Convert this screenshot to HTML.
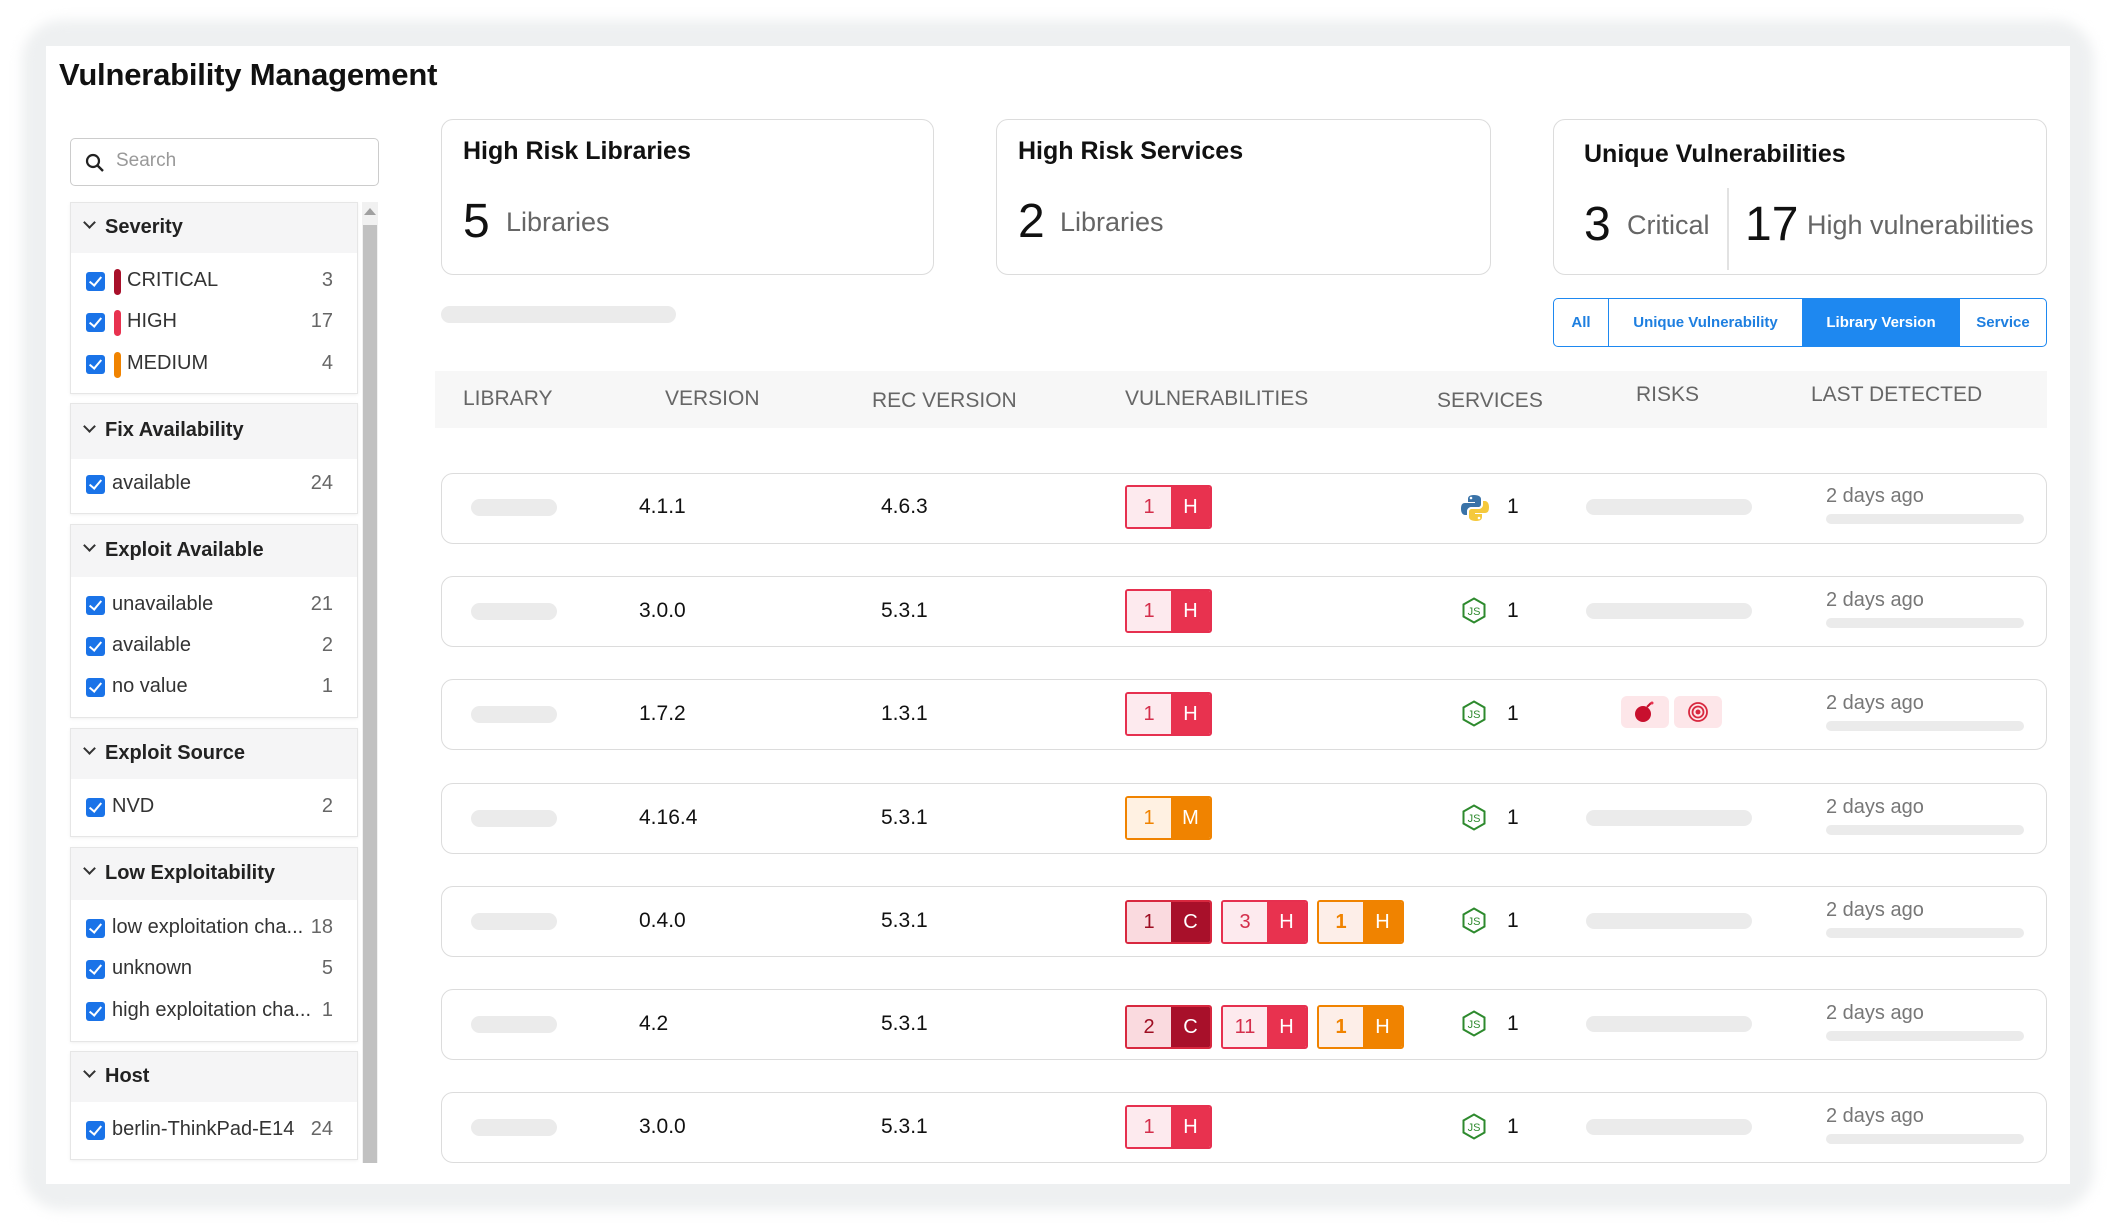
<!DOCTYPE html>
<html><head><meta charset="utf-8"><style>
*{box-sizing:border-box;margin:0;padding:0}
body{width:2116px;height:1230px;background:#fff;position:relative;overflow:hidden;font-family:"Liberation Sans",sans-serif;color:#222}
.a{position:absolute}
.frame{left:22px;top:20px;width:2072px;height:1190px;background:#eef0f1;border-radius:40px;filter:blur(6px)}
.card{left:46px;top:46px;width:2024px;height:1138px;background:#fff}
.title{left:59px;top:57px;font-size:31px;font-weight:bold;color:#111;letter-spacing:-0.2px}
.search{left:70px;top:138px;width:309px;height:48px;border:1.5px solid #ccc;border-radius:5px}
.panel{left:70px;width:288px;background:#fff;border:1.5px solid #e6e6e6;box-shadow:0 1px 3px rgba(0,0,0,.06)}
.ph{position:absolute;left:0;right:0;top:0;background:#f5f5f6}
.ph span{position:absolute;left:34px;font-size:20px;font-weight:bold;color:#222}
.ph i{position:absolute;left:14px;width:9px;height:9px;border-right:2px solid #333;border-bottom:2px solid #333;transform:rotate(45deg)}
.it{position:absolute;left:0;right:0;height:30px;font-size:20px;color:#333}
.cb{position:absolute;left:15px;top:5px;width:19px;height:19px;background:#1a73e8;border-radius:3px}
.cb:after{content:"";position:absolute;left:6px;top:2px;width:5px;height:10px;border-right:2.5px solid #fff;border-bottom:2.5px solid #fff;transform:rotate(40deg)}
.it .t{position:absolute;left:41px;top:2px;white-space:nowrap}
.it .n{position:absolute;right:24px;top:2px;color:#666}
.bar{position:absolute;left:43px;top:2px;width:7px;height:26px;border-radius:4px}
.sc{left:362px;top:202px;width:16px;height:961px;background:#f1f1f1}
.scth{left:363px;top:225px;width:14px;height:938px;background:#c1c1c1}
.box{border:1.5px solid #dcdcdc;border-radius:12px;background:#fff}
.ct{font-size:25px;font-weight:bold;color:#111}
.big{font-size:48px;color:#111;font-weight:500}
.lbl{font-size:27px;color:#666}
.sk{background:#ebebeb;border-radius:10px}
.tabs{left:1553px;top:298px;width:494px;height:49px;border:1.5px solid #1e88f0;border-radius:5px;overflow:hidden;display:flex;font-size:15px;font-weight:bold;color:#1e7fe0}
.tabs div{display:flex;align-items:center;justify-content:center;border-right:1.5px solid #1e88f0}
.th{left:435px;top:371px;width:1612px;height:57px;background:#f7f7f7}
.hd{font-size:21px;color:#666;top:387px}
.row{left:441px;width:1606px;height:71px}
.v{font-size:21px;color:#111;font-weight:500}
.bd{position:absolute;height:44px;width:87px;border:2px solid;border-radius:3px;display:flex;font-size:20px;overflow:hidden}
.bd b{font-weight:normal;display:flex;align-items:center;justify-content:center}
.bd b:first-child{width:44px}
.bd b:last-child{flex:1;color:#fff}
.H{border-color:#e6304f}.H b:first-child{background:#fdeaee;color:#d42e4b}.H b:last-child{background:#e8324f}
.C{border-color:#d8283f}.C b:first-child{background:#fadadf;color:#9e0d22}.C b:last-child{background:#a8102a}
.O{border-color:#f08300}.O b:first-child{background:#fdeee8;color:#f08300;font-weight:bold}.O b:last-child{background:#f08300}
.M{border-color:#f08300}.M b:first-child{background:#fff1e2;color:#f08300}.M b:last-child{background:#f08300}
.cnt{font-size:21px;color:#111}
.dt{font-size:20px;color:#777}
</style></head><body>
<div class="a frame"></div>
<div class="a card"></div>
<div class="a title">Vulnerability Management</div>

<div class="a search">
<svg class="a" style="left:14px;top:14px" width="20" height="20" viewBox="0 0 20 20"><circle cx="8" cy="8" r="6" fill="none" stroke="#222" stroke-width="2.2"/><line x1="12.5" y1="12.5" x2="18" y2="18" stroke="#222" stroke-width="2.4"/></svg>
<span class="a" style="left:45px;top:11px;font-size:19px;color:#999">Search</span></div>

<div class="a sc"></div><div class="a scth"></div>
<div class="a" style="left:364px;top:208px;width:0;height:0;border-left:6px solid transparent;border-right:6px solid transparent;border-bottom:7px solid #a0a0a0"></div>

<div class="a panel" style="top:202px;height:192px"><div class="ph" style="height:50px"><i style="top:15px"></i><span style="top:13px">Severity</span></div>
<div class="it" style="top:64px"><div class="cb"></div><div class="bar" style="background:#a8102a"></div><span class="t" style="left:56px">CRITICAL</span><span class="n">3</span></div>
<div class="it" style="top:105px"><div class="cb"></div><div class="bar" style="background:#e8324f"></div><span class="t" style="left:56px">HIGH</span><span class="n">17</span></div>
<div class="it" style="top:147px"><div class="cb"></div><div class="bar" style="background:#f08300"></div><span class="t" style="left:56px">MEDIUM</span><span class="n">4</span></div></div>

<div class="a panel" style="top:403px;height:111px"><div class="ph" style="height:55px"><i style="top:18px"></i><span style="top:15px">Fix Availability</span></div>
<div class="it" style="top:66px"><div class="cb"></div><span class="t">available</span><span class="n">24</span></div></div>

<div class="a panel" style="top:524px;height:194px"><div class="ph" style="height:52px"><i style="top:16px"></i><span style="top:14px">Exploit Available</span></div>
<div class="it" style="top:66px"><div class="cb"></div><span class="t">unavailable</span><span class="n">21</span></div>
<div class="it" style="top:107px"><div class="cb"></div><span class="t">available</span><span class="n">2</span></div>
<div class="it" style="top:148px"><div class="cb"></div><span class="t">no value</span><span class="n">1</span></div></div>

<div class="a panel" style="top:728px;height:109px"><div class="ph" style="height:50px"><i style="top:15px"></i><span style="top:13px">Exploit Source</span></div>
<div class="it" style="top:64px"><div class="cb"></div><span class="t">NVD</span><span class="n">2</span></div></div>

<div class="a panel" style="top:847px;height:195px"><div class="ph" style="height:52px"><i style="top:16px"></i><span style="top:14px">Low Exploitability</span></div>
<div class="it" style="top:66px"><div class="cb"></div><span class="t">low exploitation cha...</span><span class="n">18</span></div>
<div class="it" style="top:107px"><div class="cb"></div><span class="t">unknown</span><span class="n">5</span></div>
<div class="it" style="top:149px"><div class="cb"></div><span class="t">high exploitation cha...</span><span class="n">1</span></div></div>

<div class="a panel" style="top:1051px;height:109px"><div class="ph" style="height:50px"><i style="top:15px"></i><span style="top:13px">Host</span></div>
<div class="it" style="top:64px"><div class="cb"></div><span class="t">berlin-ThinkPad-E14</span><span class="n">24</span></div></div>

<div class="a box" style="left:441px;top:119px;width:493px;height:156px"></div>
<div class="a ct" style="left:463px;top:137px">High Risk Libraries</div>
<div class="a big" style="left:463px;top:194px">5</div><div class="a lbl" style="left:506px;top:207px">Libraries</div>

<div class="a box" style="left:996px;top:119px;width:495px;height:156px"></div>
<div class="a ct" style="left:1018px;top:137px">High Risk Services</div>
<div class="a big" style="left:1018px;top:194px">2</div><div class="a lbl" style="left:1060px;top:207px">Libraries</div>

<div class="a box" style="left:1553px;top:119px;width:494px;height:156px"></div>
<div class="a ct" style="left:1584px;top:140px">Unique Vulnerabilities</div>
<div class="a big" style="left:1584px;top:197px">3</div><div class="a lbl" style="left:1627px;top:210px">Critical</div>
<div class="a" style="left:1727px;top:188px;width:1.5px;height:82px;background:#e2e2e2"></div>
<div class="a big" style="left:1745px;top:197px">17</div><div class="a lbl" style="left:1807px;top:210px">High vulnerabilities</div>

<div class="a sk" style="left:441px;top:306px;width:235px;height:17px"></div>

<div class="a tabs"><div style="width:55px">All</div><div style="width:194px">Unique Vulnerability</div><div style="width:157px;background:#1e88f0;color:#fff">Library Version</div><div style="flex:1;border-right:none">Service</div></div>

<div class="a th"></div>
<div class="a hd" style="left:463px">LIBRARY</div>
<div class="a hd" style="left:665px">VERSION</div>
<div class="a hd" style="left:872px;top:389px">REC VERSION</div>
<div class="a hd" style="left:1125px">VULNERABILITIES</div>
<div class="a hd" style="left:1437px;top:389px">SERVICES</div>
<div class="a hd" style="left:1636px;top:383px">RISKS</div>
<div class="a hd" style="left:1811px;top:383px">LAST DETECTED</div>

<svg width="0" height="0" style="position:absolute"><defs>
<g id="js"><path d="M13 1.5 L23.5 7.5 L23.5 19.5 L13 25.5 L2.5 19.5 L2.5 7.5 Z" fill="none" stroke="#2e8a2e" stroke-width="2"/><text x="13" y="18" font-family="Liberation Sans" font-size="11" fill="#2e8a2e" text-anchor="middle">JS</text></g>
</defs></svg>

<div class="a box row" style="top:473px"></div>
<div class="a box row" style="top:576px"></div>
<div class="a box row" style="top:679px"></div>
<div class="a box row" style="top:783px"></div>
<div class="a box row" style="top:886px"></div>
<div class="a box row" style="top:989px"></div>
<div class="a box row" style="top:1092px"></div>

<div class="a sk" style="left:471px;top:499px;width:86px;height:17px"></div>
<div class="a v" style="left:639px;top:495px">4.1.1</div><div class="a v" style="left:881px;top:495px">4.6.3</div>
<div class="bd H" style="left:1125px;top:485px"><b>1</b><b>H</b></div>
<svg class="a" style="left:1461px;top:493px" width="28" height="30" viewBox="0 0 28 30"><path d="M13 2c-5 0-6 2-6 4v3h7v1H4c-3 0-4 2-4 6s2 6 4 6h2v-4c0-2 2-4 4-4h7c2 0 3-1 3-3V6c0-2-2-4-7-4z" fill="#3a73a8"/><path d="M15 28c5 0 6-2 6-4v-3h-7v-1h10c3 0 4-2 4-6s-2-6-4-6h-2v4c0 2-2 4-4 4h-7c-2 0-3 1-3 3v5c0 2 2 4 7 4z" fill="#f5c93c"/><circle cx="10" cy="5" r="1.3" fill="#fff"/><circle cx="18" cy="25" r="1.3" fill="#fff"/></svg>
<div class="a cnt" style="left:1507px;top:495px">1</div>
<div class="a sk" style="left:1586px;top:499px;width:166px;height:16px"></div>
<div class="a dt" style="left:1826px;top:485px">2 days ago</div><div class="a sk" style="left:1826px;top:514px;width:198px;height:10px"></div>

<div class="a sk" style="left:471px;top:603px;width:86px;height:17px"></div>
<div class="a v" style="left:639px;top:599px">3.0.0</div><div class="a v" style="left:881px;top:599px">5.3.1</div>
<div class="bd H" style="left:1125px;top:589px"><b>1</b><b>H</b></div>
<svg class="a" style="left:1461px;top:597px" width="26" height="27"><use href="#js"/></svg>
<div class="a cnt" style="left:1507px;top:599px">1</div>
<div class="a sk" style="left:1586px;top:603px;width:166px;height:16px"></div>
<div class="a dt" style="left:1826px;top:589px">2 days ago</div><div class="a sk" style="left:1826px;top:618px;width:198px;height:10px"></div>

<div class="a sk" style="left:471px;top:706px;width:86px;height:17px"></div>
<div class="a v" style="left:639px;top:702px">1.7.2</div><div class="a v" style="left:881px;top:702px">1.3.1</div>
<div class="bd H" style="left:1125px;top:692px"><b>1</b><b>H</b></div>
<svg class="a" style="left:1461px;top:700px" width="26" height="27"><use href="#js"/></svg>
<div class="a cnt" style="left:1507px;top:702px">1</div>
<div class="a" style="left:1621px;top:696px;width:48px;height:32px;background:#fde6e9;border-radius:6px"></div>
<div class="a" style="left:1674px;top:696px;width:48px;height:32px;background:#fde6e9;border-radius:6px"></div>
<svg class="a" style="left:1632px;top:700px" width="26" height="24"><circle cx="11" cy="14" r="8" fill="#c8102e"/><path d="M15 7 l4 -4" stroke="#c8102e" stroke-width="2"/><circle cx="20" cy="3" r="1.5" fill="#e8324f"/></svg>
<svg class="a" style="left:1686px;top:700px" width="24" height="24"><circle cx="12" cy="12" r="9" fill="none" stroke="#d8283f" stroke-width="1.8"/><circle cx="12" cy="12" r="5.5" fill="none" stroke="#d8283f" stroke-width="1.8"/><circle cx="12" cy="12" r="2.5" fill="#d8283f"/></svg>
<div class="a dt" style="left:1826px;top:692px">2 days ago</div><div class="a sk" style="left:1826px;top:721px;width:198px;height:10px"></div>

<div class="a sk" style="left:471px;top:810px;width:86px;height:17px"></div>
<div class="a v" style="left:639px;top:806px">4.16.4</div><div class="a v" style="left:881px;top:806px">5.3.1</div>
<div class="bd M" style="left:1125px;top:796px"><b>1</b><b>M</b></div>
<svg class="a" style="left:1461px;top:804px" width="26" height="27"><use href="#js"/></svg>
<div class="a cnt" style="left:1507px;top:806px">1</div>
<div class="a sk" style="left:1586px;top:810px;width:166px;height:16px"></div>
<div class="a dt" style="left:1826px;top:796px">2 days ago</div><div class="a sk" style="left:1826px;top:825px;width:198px;height:10px"></div>

<div class="a sk" style="left:471px;top:913px;width:86px;height:17px"></div>
<div class="a v" style="left:639px;top:909px">0.4.0</div><div class="a v" style="left:881px;top:909px">5.3.1</div>
<div class="bd C" style="left:1125px;top:900px"><b>1</b><b>C</b></div>
<div class="bd H" style="left:1221px;top:900px"><b>3</b><b>H</b></div>
<div class="bd O" style="left:1317px;top:900px"><b>1</b><b>H</b></div>
<svg class="a" style="left:1461px;top:907px" width="26" height="27"><use href="#js"/></svg>
<div class="a cnt" style="left:1507px;top:909px">1</div>
<div class="a sk" style="left:1586px;top:913px;width:166px;height:16px"></div>
<div class="a dt" style="left:1826px;top:899px">2 days ago</div><div class="a sk" style="left:1826px;top:928px;width:198px;height:10px"></div>

<div class="a sk" style="left:471px;top:1016px;width:86px;height:17px"></div>
<div class="a v" style="left:639px;top:1012px">4.2</div><div class="a v" style="left:881px;top:1012px">5.3.1</div>
<div class="bd C" style="left:1125px;top:1005px"><b>2</b><b>C</b></div>
<div class="bd H" style="left:1221px;top:1005px"><b>11</b><b>H</b></div>
<div class="bd O" style="left:1317px;top:1005px"><b>1</b><b>H</b></div>
<svg class="a" style="left:1461px;top:1010px" width="26" height="27"><use href="#js"/></svg>
<div class="a cnt" style="left:1507px;top:1012px">1</div>
<div class="a sk" style="left:1586px;top:1016px;width:166px;height:16px"></div>
<div class="a dt" style="left:1826px;top:1002px">2 days ago</div><div class="a sk" style="left:1826px;top:1031px;width:198px;height:10px"></div>

<div class="a sk" style="left:471px;top:1119px;width:86px;height:17px"></div>
<div class="a v" style="left:639px;top:1115px">3.0.0</div><div class="a v" style="left:881px;top:1115px">5.3.1</div>
<div class="bd H" style="left:1125px;top:1105px"><b>1</b><b>H</b></div>
<svg class="a" style="left:1461px;top:1113px" width="26" height="27"><use href="#js"/></svg>
<div class="a cnt" style="left:1507px;top:1115px">1</div>
<div class="a sk" style="left:1586px;top:1119px;width:166px;height:16px"></div>
<div class="a dt" style="left:1826px;top:1105px">2 days ago</div><div class="a sk" style="left:1826px;top:1134px;width:198px;height:10px"></div>
</body></html>
